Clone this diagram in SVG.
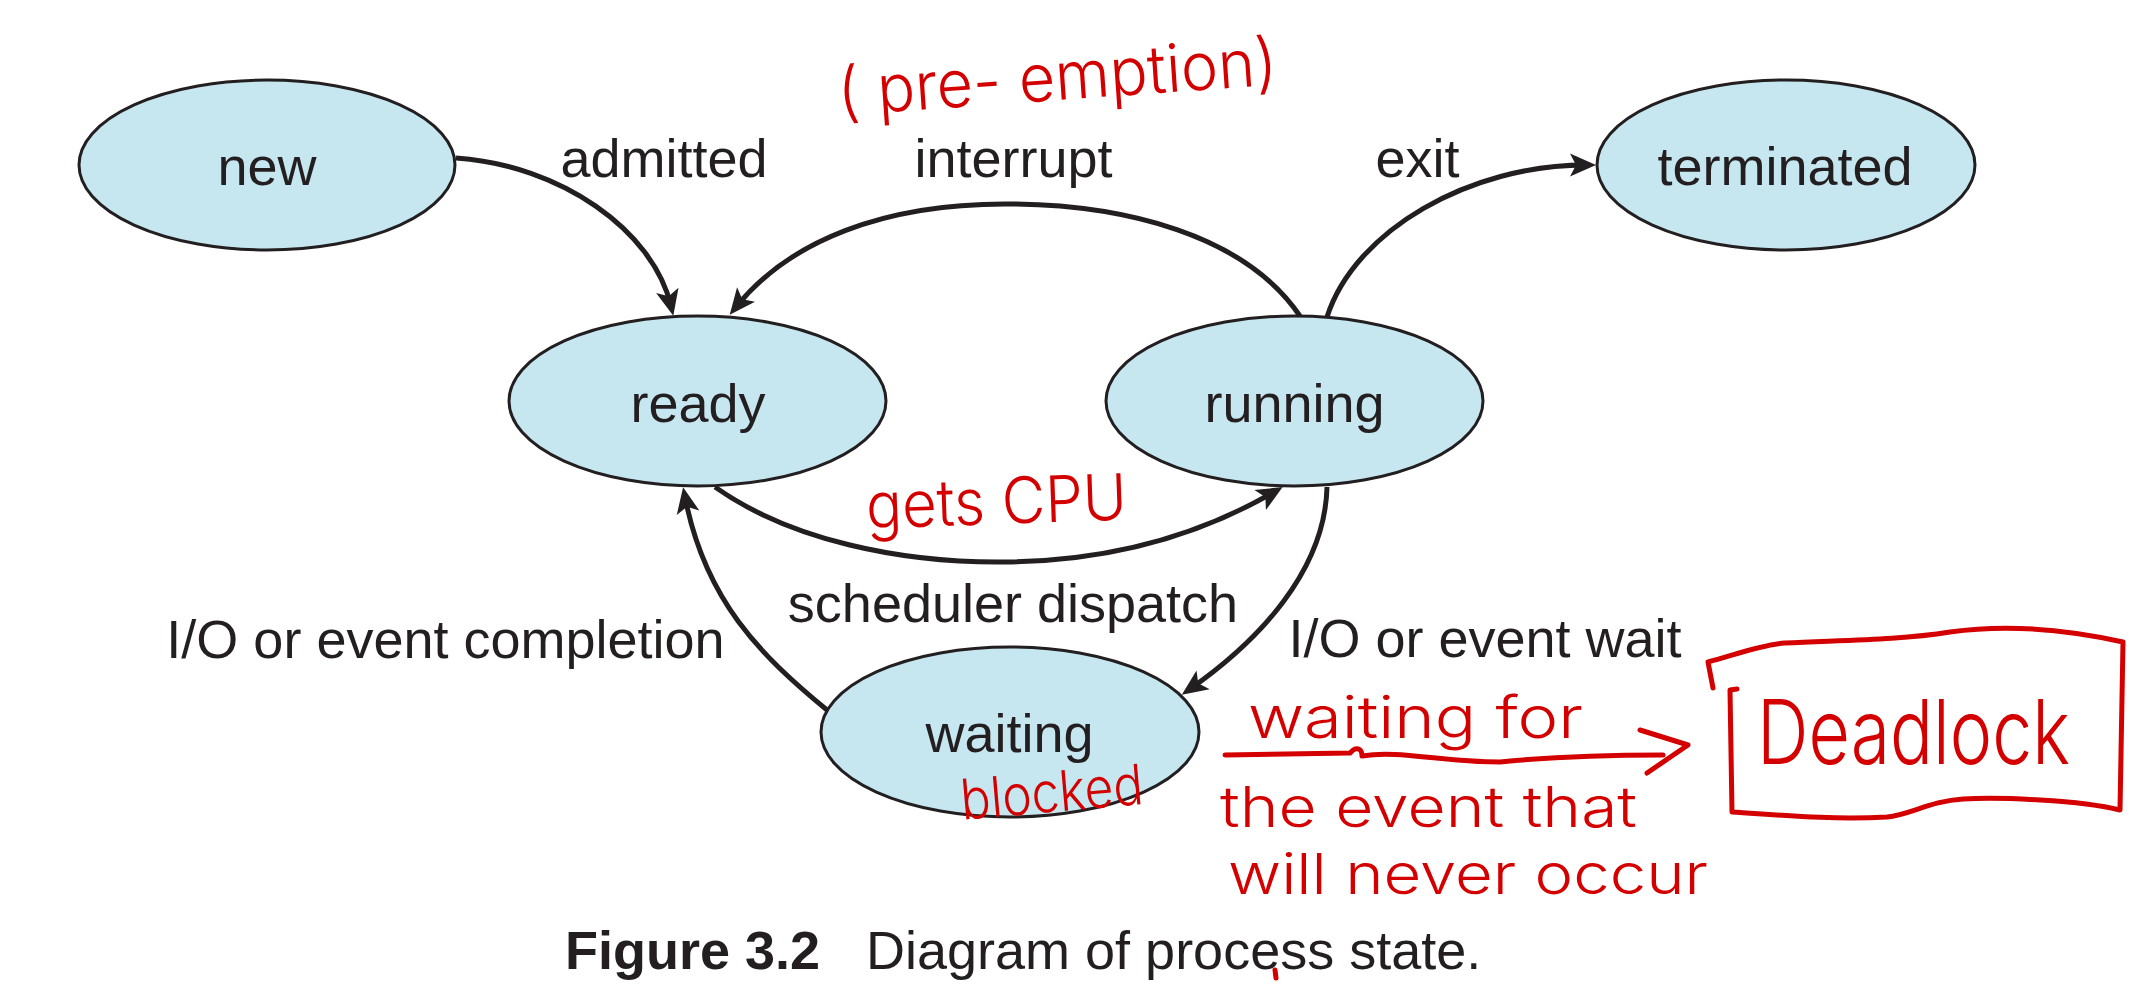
<svg xmlns="http://www.w3.org/2000/svg" width="2155" height="1000" viewBox="0 0 2155 1000">
<defs>
<style>
.node ellipse{fill:#c6e7f0;stroke:#231f20;stroke-width:3}
.lbl{font-family:"Liberation Sans",Arial,sans-serif;font-size:54px;fill:#231f20;text-anchor:middle}
.edge{fill:none;stroke:#231f20;stroke-width:5}
.hand{font-family:"Inter","Open Sans",sans-serif;font-weight:300;fill:#d40000}
.ink{fill:none;stroke:#d40000;stroke-width:5;stroke-linecap:round;stroke-linejoin:round}
.cap{font-family:"Liberation Sans",Arial,sans-serif;font-size:54px;fill:#231f20}
</style>
<marker id="ah" markerUnits="userSpaceOnUse" orient="auto" viewBox="-30 -15 45 30" markerWidth="45" markerHeight="30" refX="-10" refY="0">
<path d="M0,0 L-26,-11.5 L-20,0 L-26,11.5 Z" fill="#231f20"/>
</marker>
</defs>
<rect width="2155" height="1000" fill="#ffffff"/>

<g id="connectors">
<path class="edge" marker-end="url(#ah)" d="M456,158 C560,165 653,230 671,306"/>
<path class="edge" marker-end="url(#ah)" d="M1300,316 C1245,235 1125,204 1005,204 C885,204 790,240 736,307"/>
<path class="edge" marker-end="url(#ah)" d="M1327,317 C1355,230 1470,165 1586,165"/>
<path class="edge" marker-end="url(#ah)" d="M715,487 C790,540 900,563 1005,562 C1110,561 1200,535 1274,492"/>
<path class="edge" marker-end="url(#ah)" d="M1327,487 C1325,570 1260,640 1190,689"/>
<path class="edge" marker-end="url(#ah)" d="M827,710 C760,655 705,600 685,497"/>
</g>

<g id="node-new" class="node"><ellipse cx="267" cy="165" rx="188" ry="85"/><text class="lbl" x="267" y="185">new</text></g>
<g id="node-ready" class="node"><ellipse cx="697.5" cy="401" rx="188.5" ry="85"/><text class="lbl" x="698" y="422">ready</text></g>
<g id="node-running" class="node"><ellipse cx="1294.5" cy="401" rx="188.5" ry="85"/><text class="lbl" x="1294.5" y="422">running</text></g>
<g id="node-terminated" class="node"><ellipse cx="1786" cy="165" rx="189" ry="85"/><text class="lbl" x="1785" y="185">terminated</text></g>
<g id="node-waiting" class="node"><ellipse cx="1010" cy="732" rx="189" ry="85"/><text class="lbl" x="1009.5" y="752">waiting</text></g>

<g id="edge-labels">
<text class="lbl" x="664" y="177">admitted</text>
<text class="lbl" x="1013.5" y="177">interrupt</text>
<text class="lbl" x="1417.5" y="177">exit</text>
<text class="lbl" x="1013" y="622">scheduler dispatch</text>
<text class="lbl" x="445.5" y="658">I/O or event completion</text>
<text class="lbl" x="1485" y="657">I/O or event wait</text>
</g>

<g id="annotations">
<text class="hand" font-size="66" x="837" y="100" textLength="440" lengthAdjust="spacingAndGlyphs" transform="rotate(-4 1057 75)">( pre- emption)</text>
<text class="hand" font-size="64" x="866" y="524" textLength="261" lengthAdjust="spacingAndGlyphs" transform="rotate(-2 996 505)">gets CPU</text>
<text class="hand" font-size="56" x="960" y="812" textLength="183" lengthAdjust="spacingAndGlyphs" transform="rotate(-5 1050 790)">blocked</text>
<text class="hand" font-size="58" x="1248" y="738" textLength="335" lengthAdjust="spacingAndGlyphs">waiting for</text>
<text class="hand" font-size="56" x="1220" y="827" textLength="417" lengthAdjust="spacingAndGlyphs">the event that</text>
<text class="hand" font-size="56" x="1228" y="894" textLength="480" lengthAdjust="spacingAndGlyphs">will never occur</text>
<path class="ink" d="M1225,755 L1350,753 C1356,746 1362,748 1362,756 C1400,750 1440,762 1500,762 C1560,756 1620,755 1663,755 M1640,730 L1688,745 L1647,773"/>
<path class="ink" d="M1713,688 L1708,662 C1735,655 1760,645 1785,643 C1850,640 1900,640 1950,632 C2000,625 2060,628 2123,642 L2120,810 C2080,800 2000,797 1963,799 C1930,801 1910,815 1887,817 C1830,820 1780,815 1732,812 L1730,690 L1737,689"/>
<text class="hand" font-size="90" x="1757" y="764" textLength="313" lengthAdjust="spacingAndGlyphs">Deadlock</text>
<path class="ink" d="M1275,970 L1276,978" stroke-width="3"/>
</g>

<g id="caption">
<text class="cap" x="565" y="969"><tspan font-weight="bold">Figure 3.2</tspan></text>
<text class="cap" x="866" y="969">Diagram of process state.</text>
</g>
</svg>
